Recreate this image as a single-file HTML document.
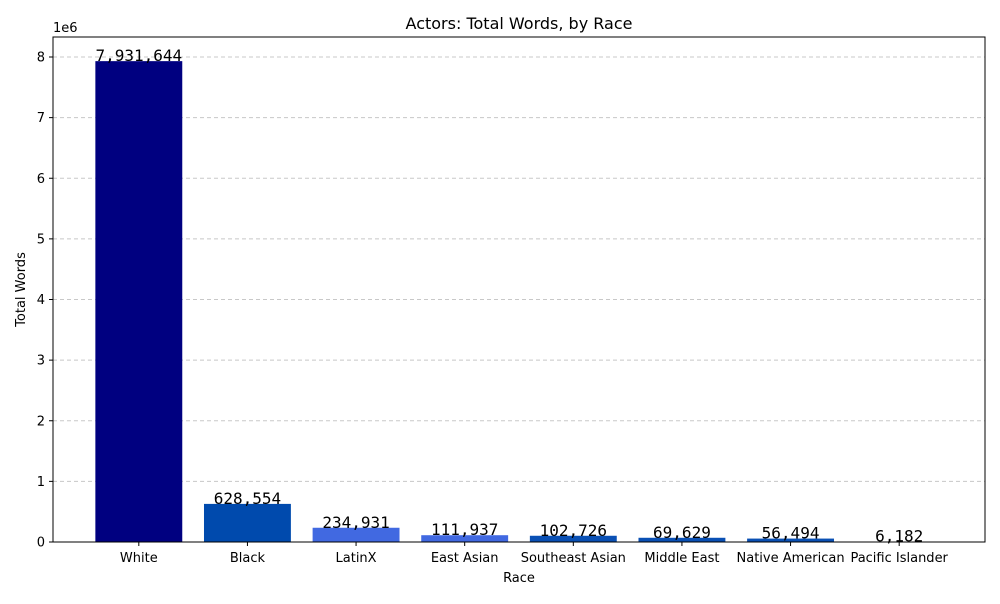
<!DOCTYPE html>
<html><head><meta charset="utf-8"><style>
body{margin:0;background:#fff;font-family:"DejaVu Sans","Liberation Sans",sans-serif;}
svg text{font-family:"DejaVu Sans","Liberation Sans",sans-serif;}
svg text.mono{font-family:"DejaVu Sans Mono","Liberation Mono",monospace;}
</style></head><body>
<svg id="chart" width="1000" height="600" xmlns="http://www.w3.org/2000/svg"></svg>
<script>
const categories=["White","Black","LatinX","East Asian","Southeast Asian","Middle East","Native American","Pacific Islander"];
const values=[7931644,628554,234931,111937,102726,69629,56494,6182];
const colors=["#000080","#004aad","#4169e1","#4169e1","#0a50b4","#0a50b4","#0a50b4","#000080"];
const yTicks=[0,1,2,3,4,5,6,7,8];
const L=53,R=985,T=37,B=542;
const yPx=v=>B-v/8e6*485;
const n=categories.length;
const xMin=-0.4-0.05*(n-0.2), xMax=(n-1)+0.4+0.05*(n-0.2);
const xPx=i=>L+(i-xMin)/(xMax-xMin)*(R-L);
const unit=(R-L)/(xMax-xMin);
const svg=document.getElementById('chart');
const NS="http://www.w3.org/2000/svg";
function mk(tag,attrs,parent){const e=document.createElementNS(NS,tag);for(const k in attrs)e.setAttribute(k,attrs[k]);(parent||svg).appendChild(e);return e;}
yTicks.forEach(t=>{
  const y=yPx(t*1e6);
  if(t>0){const g=mk('line',{x1:L,x2:R,y1:y,y2:y,stroke:'#c8c8c8','stroke-dasharray':'4,3','stroke-width':1});
  
  }
  mk('line',{x1:L-4,x2:L,y1:y,y2:y,stroke:'#000'});
  const tx=mk('text',{x:L-8,y:y+4.5,'text-anchor':'end','font-size':13});
  tx.textContent=t;
  
  
});
const bw=unit*0.8;
categories.forEach((c,i)=>{
  const x=xPx(i),y=yPx(values[i]);
  const r=mk('rect',{x:x-bw/2,y:y,width:bw,height:B-y,fill:colors[i]});
  
  
  const lb=mk('text',{x:x,y:y,'text-anchor':'middle','font-size':16,'class':'mono'});
  lb.textContent=values[i].toLocaleString('en-US');
  
  
  mk('line',{x1:x,x2:x,y1:B,y2:B+4,stroke:'#000'});
  const tl=mk('text',{x:x,y:B+20,'text-anchor':'middle','font-size':13});
  tl.textContent=c;
  
  
});
const fr=mk('rect',{x:L,y:T,width:R-L,height:B-T,fill:'none',stroke:'#000','stroke-width':1});


const off=mk('text',{x:L,y:T-5,'font-size':13});off.textContent='1e6';


const ti=mk('text',{x:(L+R)/2,y:29,'text-anchor':'middle','font-size':16});ti.textContent='Actors: Total Words, by Race';


const xt=mk('text',{x:(L+R)/2,y:582,'text-anchor':'middle','font-size':13});xt.textContent='Race';


const yt=mk('text',{x:25,y:(T+B)/2,'text-anchor':'middle','font-size':13,transform:'rotate(-90 25 '+((T+B)/2)+')'});yt.textContent='Total Words';


</script>
</body></html>
